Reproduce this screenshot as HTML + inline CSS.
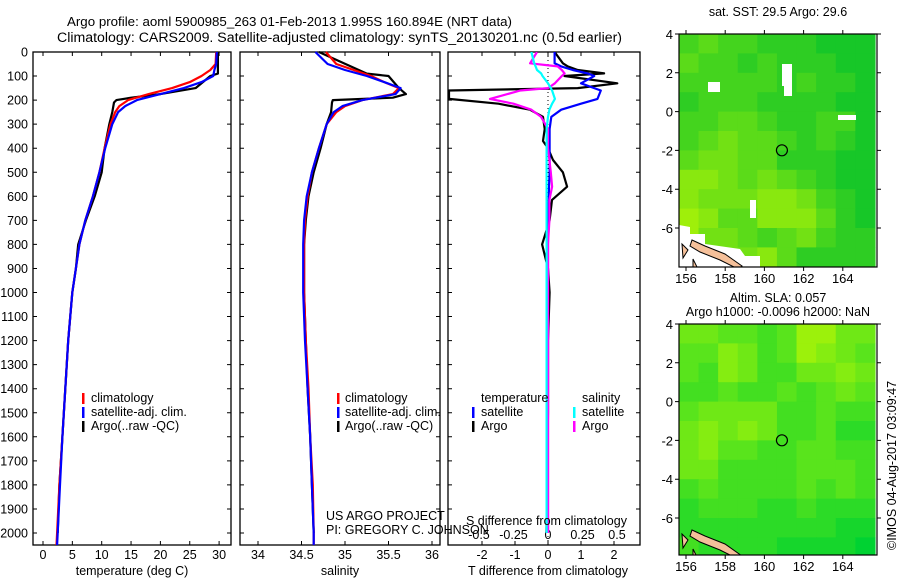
<!DOCTYPE html>
<html><head><meta charset="utf-8"><style>
html,body{margin:0;padding:0;background:#fff}
svg{display:block;font-family:"Liberation Sans",sans-serif}
text{font-size:12.5px;fill:#000}
</style></head><body>
<svg id="chart" width="900" height="580" viewBox="0 0 900 580">
<text x="67" y="26" textLength="445" lengthAdjust="spacingAndGlyphs" style="font-size:13.3px">Argo profile: aoml 5900985_263 01-Feb-2013 1.995S 160.894E (NRT data)</text>
<text x="57" y="42" textLength="565" lengthAdjust="spacingAndGlyphs" style="font-size:13.5px">Climatology: CARS2009. Satellite-adjusted climatology: synTS_20130201.nc (0.5d earlier)</text>
<g id="g"></g>
<text x="91" y="402">climatology</text>
<text x="91" y="416">satellite-adj. clim.</text>
<text x="91" y="430">Argo(..raw -QC)</text>
<rect x="82" y="393" width="2.5" height="11" fill="#f00"/>
<rect x="82" y="407" width="2.5" height="11" fill="#00f"/>
<rect x="82" y="421" width="2.5" height="11" fill="#000"/>
<text x="345" y="402">climatology</text>
<text x="345" y="416">satellite-adj. clim.</text>
<text x="345" y="430">Argo(..raw -QC)</text>
<rect x="337" y="393" width="2.5" height="11" fill="#f00"/>
<rect x="337" y="407" width="2.5" height="11" fill="#00f"/>
<rect x="337" y="421" width="2.5" height="11" fill="#000"/>
<text x="481" y="402">temperature</text>
<text x="481" y="416">satellite</text>
<text x="481" y="430">Argo</text>
<text x="582" y="402">salinity</text>
<text x="582" y="416">satellite</text>
<text x="582" y="430">Argo</text>
<rect x="472" y="407" width="2.5" height="11" fill="#00f"/>
<rect x="472" y="421" width="2.5" height="11" fill="#000"/>
<rect x="573" y="407" width="2.5" height="11" fill="#0ff"/>
<rect x="573" y="421" width="2.5" height="11" fill="#f0f"/>
<text x="326" y="520">US ARGO PROJECT</text>
<text x="326" y="534">PI: GREGORY C. JOHNSON</text>
<text x="466" y="525">S difference from climatology</text>
<text x="132" y="575" text-anchor="middle">temperature (deg C)</text>
<text x="340" y="575" text-anchor="middle">salinity</text>
<text x="548" y="575" text-anchor="middle">T difference from climatology</text>
<text x="778" y="16" text-anchor="middle">sat. SST: 29.5 Argo: 29.6</text>
<text x="778" y="302" text-anchor="middle">Altim. SLA: 0.057</text>
<text x="778" y="316" text-anchor="middle">Argo h1000: -0.0096 h2000: NaN</text>
<text x="0" y="0" transform="translate(896,550) rotate(-90)">©IMOS 04-Aug-2017 03:09:47</text>
</svg>
<script>
// ---- profile data ----
const tDepth   = [0,50,75,100,125,150,175,200,225,250,300,400,500,600,700,800,900,1000,1200,1400,1600,1800,2000,2050];
const tClim    = [29.5,29.4,28.5,27,25,22,18,14.5,13,12.3,11.5,10.5,9.6,8.5,7.2,6.2,5.6,5.0,4.3,3.8,3.3,2.8,2.4,2.3];
const tSat     = [29.6,29.5,29.2,29,27,24,20,16,14,12.8,11.8,10.6,9.6,8.5,7.2,6.2,5.6,5.0,4.3,3.8,3.3,2.9,2.5,2.4];
const aDepth   = [0,90,100,150,175,190,200,210,250,300,400,500,600,700,800,900,1000,1200,1400,1600,1800,2000];
const tArgo    = [29.8,29.8,28.5,26,20,15,12.5,12.1,11.8,11.3,10.5,10,8.8,7.3,6.0,5.6,5.0,4.3,3.8,3.3,2.8,2.5];
const sClim    = [34.78,34.9,35.1,35.3,35.45,35.62,35.55,35.2,35.0,34.9,34.79,34.7,34.62,34.57,34.54,34.53,34.53,34.53,34.55,34.58,34.6,34.63,34.64,34.64];
const sSat     = [34.66,34.8,35.0,35.25,35.45,35.64,35.58,35.2,34.97,34.87,34.79,34.7,34.62,34.56,34.53,34.52,34.52,34.52,34.54,34.57,34.6,34.62,34.64,34.64];
const sArgo    = [34.7,35.25,35.5,35.62,35.7,35.55,34.86,34.85,34.84,34.79,34.72,34.64,34.58,34.55,34.53,34.53,34.53,34.55,34.57,34.6,34.62,34.64];
const dDepth   = [0,47,60,75,89,100,130,150,160,195,215,240,270,320,370,400,449,500,560,615,700,800,900,1000,1200,1500,2000];
const dTArgo   = [0.2,0.45,0.6,0.9,1.7,0.5,2.1,0.9,-3.0,-3.0,-1.5,-0.55,-0.15,-0.1,-0.15,0,0.15,0.45,0.58,0.12,0.05,-0.18,0,0.05,0,0,-0.05];
const dTSat    = [0.2,0.2,0.4,0.75,1.2,1.4,1.0,1.4,1.6,1.5,1.0,0.4,0.1,0.05,0.05,0.05,0.05,0.05,0.03,0.02,0,0,0,0,0,0,0];
const dSArgo   = [-0.08,-0.13,0.07,0.1,0.12,0.1,0.05,0.0,-0.2,-0.42,-0.25,-0.12,-0.05,0,0,0,0.01,0.02,0.03,0.01,0.01,0,0,0,0,0,0];
const dSSat    = [-0.12,-0.1,-0.09,-0.08,-0.05,-0.04,0.0,0.02,0.03,0.05,0.03,0.01,0,-0.01,-0.01,-0.01,-0.01,-0.01,-0.01,-0.01,-0.01,-0.01,-0.01,-0.01,-0.01,-0.01,-0.01];
const depthTicks = [0,100,200,300,400,500,600,700,800,900,1000,1100,1200,1300,1400,1500,1600,1700,1800,1900,2000];
const tTicks = [0,5,10,15,20,25,30];
const sTicks = [34,34.5,35,35.5,36];
const dtTicks = [-2,-1,0,1,2];
const dsTicks = [-0.5,-0.25,0,0.25,0.5];
// ---- map data (yellowness 0..9 per 1-degree cell, rows lat 4..-8, cols lon 156..166) ----
const sstGrid = [
[3,4,3,3,2,2,2,1,1,1],[4,3,3,2,3,2,2,2,1,1],[3,3,3,3,3,2,3,2,2,1],[2,3,3,3,2,2,2,2,1,1],
[3,3,4,4,3,2,2,3,3,1],[3,4,5,4,4,3,2,3,2,1],[4,5,5,4,4,2,2,2,1,1],[6,6,5,4,5,4,3,2,1,1],
[6,5,5,5,6,6,5,3,2,1],[7,6,4,4,6,6,6,4,2,1],[7,5,5,4,3,4,5,3,2,2],[6,5,5,5,6,4,2,2,2,2]];
const slaGrid = [
[5,5,4,4,3,4,7,7,5,5],[4,4,6,5,3,4,7,6,5,4],[4,3,6,5,3,3,5,5,6,5],[3,3,4,3,3,4,3,4,5,4],
[4,5,5,5,5,3,3,4,3,3],[5,6,5,6,5,3,3,4,2,2],[5,6,4,4,3,3,4,4,3,3],[5,5,3,3,3,3,4,4,4,3],
[3,4,3,3,3,3,4,3,4,3],[2,3,3,3,2,2,3,2,2,2],[2,2,2,2,2,2,2,2,1,1],[3,2,2,2,2,1,1,1,1,0]];
const latTicks = [4,2,0,-2,-4,-6];
const lonTicks = [156,158,160,162,164];
const argoLon = 160.894, argoLat = -1.995;

const NS="http://www.w3.org/2000/svg";
const g=document.getElementById('g');
function el(tag,attrs,parent){const e=document.createElementNS(NS,tag);for(const k in attrs)e.setAttribute(k,attrs[k]);(parent||g).appendChild(e);return e;}
const Y0=52, YS=0.2405, YB=545;
const yD=d=>Y0+d*YS;
const panels=[
 {l:33,r:231,x:v=>43+v*5.87,ticks:tTicks,name:'temperature-panel'},
 {l:240,r:440,x:v=>258+(v-34)*87,ticks:sTicks,name:'salinity-panel'},
 {l:448,r:640,x:v=>548+v*33,ticks:dtTicks,name:'difference-panel'}];
panels.forEach((p,i)=>{
  const fr=el('rect',{x:p.l,y:Y0,width:p.r-p.l,height:YB-Y0,fill:'none',stroke:'#000','stroke-width':1.3});
  
  
  depthTicks.forEach(d=>{
    const t=el('path',{d:`M${p.l},${yD(d)}h4M${p.r},${yD(d)}h-4`,stroke:'#000'});
    
    
    if(i===0){const tx=el('text',{x:28,y:yD(d)+4.5,'text-anchor':'end'});tx.textContent=d;
      
      }
  });
  p.ticks.forEach(v=>{
    const X=p.x(v);
    const t=el('path',{d:`M${X},${Y0}v4M${X},${YB}v-4`,stroke:'#000'});
    
    
    const tx=el('text',{x:X,y:559,'text-anchor':'middle'});tx.textContent=v;
    
    
  });
});
const dsx=v=>548+v*138;
dsTicks.forEach(v=>{const tx=el('text',{x:dsx(v),y:539,'text-anchor':'middle'});tx.textContent=v;
  
  });
const defs=el('defs',{});
const cp=el('clipPath',{id:'c3'},defs);el('rect',{x:448,y:Y0,width:192,height:YB-Y0},cp);
function line(depths,vals,xf,color,name,clip,w){
  const pts=depths.map((d,i)=>xf(vals[i]).toFixed(1)+','+yD(d).toFixed(1)).join(' ');
  const pl=el('polyline',{points:pts,fill:'none',stroke:color,'stroke-width':w||2.2,'stroke-linejoin':'round'});
  if(clip)pl.setAttribute('clip-path','url(#c3)');
  
  
}
const dz=el('path',{d:`M548,${Y0}V${YB}`,stroke:'#000','stroke-dasharray':'1,3','stroke-width':1});


line(aDepth,tArgo,panels[0].x,'#000','temp-argo-line');
line(tDepth,tClim,panels[0].x,'#f00','temp-climatology-line');
line(tDepth,tSat,panels[0].x,'#00f','temp-satellite-line');
line(aDepth,sArgo,panels[1].x,'#000','sal-argo-line');
line(tDepth,sClim,panels[1].x,'#f00','sal-climatology-line');
line(tDepth,sSat,panels[1].x,'#00f','sal-satellite-line');
line(dDepth,dTArgo,panels[2].x,'#000','tdiff-argo-line',true);
line(dDepth,dTSat,panels[2].x,'#00f','tdiff-satellite-line',true);
line(dDepth,dSArgo,dsx,'#f0f','sdiff-argo-line',true);
line(dDepth,dSSat,dsx,'#0ff','sdiff-satellite-line',true);

// ---- maps ----
const ML=679, MR=877;
const lonX=lo=>686+(lo-156)*19.6;
function drawMap(grid,top,bottom,name,c0,c1){
  const latY=la=>top+(4-la)*19.4;
  const cid='clip'+name;
  const c=el('clipPath',{id:cid},defs);el('rect',{x:ML,y:top,width:MR-ML,height:bottom-top},c);
  const mg=el('g',{'clip-path':`url(#${cid})`});
  
  
  grid.forEach((row,r)=>row.forEach((v,k)=>{
    const f=v/9;
    const col=`rgb(${Math.round(c0[0]+(c1[0]-c0[0])*f)},${Math.round(c0[1]+(c1[1]-c0[1])*f)},${Math.round(c0[2]+(c1[2]-c0[2])*f)})`;
    const x=lonX(155.64+k), y=latY(4-r);
    const rc=el('rect',{x:x,y:y,width:20.2,height:20,fill:col},mg);
    
    
  }));
  return {mg,latY};
}
function frameMap(top,bottom,latY,name,labY){
  const f=el('rect',{x:ML,y:top,width:MR-ML,height:bottom-top,fill:'none',stroke:'#000','stroke-width':1.2});
  
  
  latTicks.forEach(la=>{const Y=latY(la);
    el('path',{d:`M${ML},${Y}h-4M${MR},${Y}h4`,stroke:'#000'});
    const t=el('text',{x:673,y:Y+5,'text-anchor':'end',style:'font-size:13px'});t.textContent=la;
    
    });
  lonTicks.forEach(lo=>{const X=lonX(lo);
    el('path',{d:`M${X},${top}v-4M${X},${bottom}v4`,stroke:'#000'});
    const t=el('text',{x:X,y:labY,'text-anchor':'middle',style:'font-size:13px'});t.textContent=lo;
    
    });
  const ci=el('circle',{cx:lonX(argoLon),cy:latY(argoLat),r:5.5,fill:'none',stroke:'#000','stroke-width':1.2});
  
  
}
function land(mg,top,white){
  if(white){const w=el('path',{d:`M${ML},${top+191} L690,${top+193} L690,${top+200} L705,${top+200} L705,${top+210} L740,${top+215} L745,${top+222} L760,${top+222} L760,${top+240} L${ML},${top+240}Z`,fill:'#fff'},mg);
    
    }
  const l=el('path',{d:`M692,${top+206} L705,${top+212} L725,${top+220} L742,${top+232} L738,${top+235} L720,${top+226} L700,${top+218} L690,${top+212}Z M682,${top+210} L688,${top+216} L683,${top+224}Z M693,${top+225} L698,${top+235} L693,${top+240}Z`,fill:'#f5c09a',stroke:'#000','stroke-width':1},mg);
  
  
}
const m1=drawMap(sstGrid,34,267,'sst-map',[0,192,45],[205,252,0]);
[[782,64,10,22],[784,86,8,10],[708,82,12,10],[838,115,18,5],[750,200,6,18]].forEach(a=>{
  const r=el('rect',{x:a[0],y:a[1],width:a[2],height:a[3],fill:'#fff'},m1.mg);
  
  });
land(m1.mg,34,true);
frameMap(34,267,m1.latY,'sst-map',283);
const m2=drawMap(slaGrid,324,555,'sla-map',[0,210,50],[200,250,0]);
land(m2.mg,324,false);
frameMap(324,555,m2.latY,'sla-map',571);
</script>
</body></html>
